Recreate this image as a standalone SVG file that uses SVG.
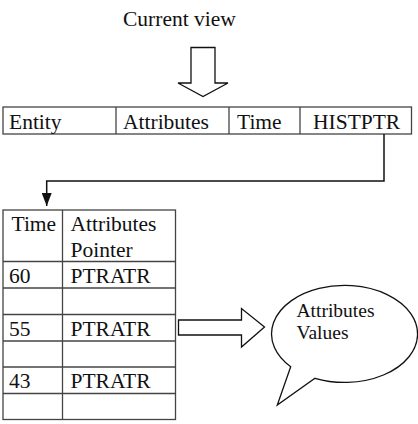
<svg xmlns="http://www.w3.org/2000/svg" width="418" height="424" viewBox="0 0 418 424">
  <style>
    text { font-family: "Liberation Serif", "Times New Roman", serif; font-size: 21.5px; fill: #111; }
    .cell { fill: none; stroke: #444; stroke-width: 1.3; }
    .shape { fill: #fff; stroke: #111; stroke-width: 1.3; stroke-linejoin: miter; }
    .wire { fill: none; stroke: #111; stroke-width: 1.5; }
    .small { font-size: 19.5px; }
  </style>
  <defs>
    <marker id="arrowhead" viewBox="0 0 13 10" refX="13" refY="5" markerWidth="13" markerHeight="10" markerUnits="userSpaceOnUse" orient="auto">
      <path d="M0,0 L13,5 L0,10 Z" fill="#111"/>
    </marker>
  </defs>

  <rect width="418" height="424" fill="#fff"/>

  <!-- Title and block arrow into the record -->
  <g id="current-view">
    <text x="123" y="26">Current view</text>
    <path class="shape" d="M191,47.5 L215,47.5 L215,83 L228,83 L203,96.5 L178,83 L191,83 Z"/>
  </g>

  <!-- Current record -->
  <g id="record">
    <rect class="cell" x="3" y="107" width="408.5" height="27"/>
    <line class="cell" x1="116" y1="107" x2="116" y2="134"/>
    <line class="cell" x1="229" y1="107" x2="229" y2="134"/>
    <line class="cell" x1="300" y1="107" x2="300" y2="134"/>
    <text x="9" y="128.5">Entity</text>
    <text x="123" y="128.5">Attributes</text>
    <text x="237" y="128.5">Time</text>
    <text x="313" y="128.5">HISTPTR</text>
  </g>

  <!-- History pointer link -->
  <g id="connectors">
    <path class="wire" d="M384,134 L384,181 L46.7,181 L46.7,206" marker-end="url(#arrowhead)"/>
  </g>

  <!-- History table -->
  <g id="history">
    <rect class="cell" x="3" y="210" width="172.5" height="209.5"/>
    <line class="cell" x1="62.5" y1="210" x2="62.5" y2="419.5"/>
    <line class="cell" x1="3" y1="261.5" x2="175.5" y2="261.5"/>
    <line class="cell" x1="3" y1="288" x2="175.5" y2="288"/>
    <line class="cell" x1="3" y1="314.5" x2="175.5" y2="314.5"/>
    <line class="cell" x1="3" y1="341" x2="175.5" y2="341"/>
    <line class="cell" x1="3" y1="367" x2="175.5" y2="367"/>
    <line class="cell" x1="3" y1="393.5" x2="175.5" y2="393.5"/>
    <text x="11.5" y="231">Time</text>
    <text x="70.5" y="231">Attributes</text>
    <text x="70.5" y="256.5">Pointer</text>
    <text x="9" y="282.5">60</text>
    <text x="70.5" y="282.5">PTRATR</text>
    <text x="9" y="335.5">55</text>
    <text x="70.5" y="335.5">PTRATR</text>
    <text x="9" y="387.5">43</text>
    <text x="70.5" y="387.5">PTRATR</text>
  </g>

  <!-- Block arrow to values -->
  <g id="values-arrow">
    <path class="shape" d="M178.5,320 L241.5,320 L241.5,308.5 L264.5,327 L241.5,347 L241.5,335 L178.5,335 Z"/>
  </g>

  <!-- Attribute values callout -->
  <g id="values">
    <path class="shape" d="M290.7,366.7 A73,48.5 0 1 1 315,378.3 L277.3,405 Z"/>
    <text class="small" x="296.5" y="316.5">Attributes</text>
    <text class="small" x="296.5" y="338.5">Values</text>
  </g>
</svg>
